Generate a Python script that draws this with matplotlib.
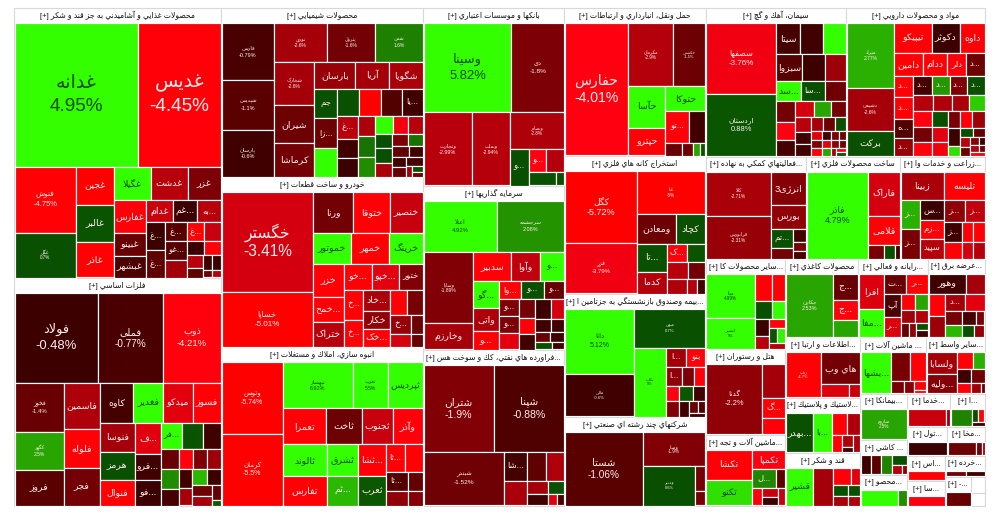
import math
import matplotlib
matplotlib.use("Agg")
import matplotlib.pyplot as plt
from matplotlib.colors import LinearSegmentedColormap, Normalize
from matplotlib.patches import Rectangle

plt.rcParams['font.family'] = ['Liberation Sans', 'DejaVu Sans']

# ---------- data: name, market-size estimate, daily change (%) ----------
FOOD_T = "محصولات غذايي و آشاميدني به جز قند و شكر [+]"
FOOD_N = ["غدانه","غدیس","فنوش","غگل","غجین","غالبر","غاذر","غگیلا","غدشت","غزر","غفارس","غبینو","غبشهر","غدام","...غم","...به","...غ","...غ","...غ","...غو","","...غ","","","","","","","","",""]
FOOD_V = [17712,11808,3965,2684,1369,1332,1295,1184,1184,1056,1023,682,651,567,504,483,486,468,396,396,352,288,288,195,195,180,135,112,112,56,56]
FOOD_C = [4.95,-4.45,-4.75,0.7,-5,0.8,-4.8,5,-3,-1.8,-4.5,-1.4,-0.8,-3.2,-0.5,-3.0,-0.5,-1.2,-1.0,-1.0,-2.5,-4.8,-3.2,-0.5,-4.5,-3.0,-1.2,-0.5,-0.5,-1.5,-3]

METAL_T = "فلزات اساسي [+]"
METAL_N = ["فولاد","فملی","ذوب","فخوز","کگهر","فروز","فاسمین","فلوله","فجر","کاوه","فغدیر","میدکو","فسوز","فنوسا","هرمز","فنوال","...ف","...فرو","...فو","...فر","","","","","","","","","","","","","","","",""]
METAL_V = [7380,5760,5130,2352,1813,1666,1584,1368,1296,1254,1140,1102,1064,952,918,850,780,650,624,520,520,442,323,247,247,247,323,255,234,208,210,195,180,162,112,40]
METAL_C = [-0.48,-0.77,-4.21,-1.4,2.5,-1.1,-2.8,-4.6,-1.6,-0.7,5,-3.6,-4.6,-2.6,0.7,-4.8,-3.6,-0.6,-0.5,5,0.8,-0.6,-1.4,-4.2,-1.8,-2.4,1.9,-0.7,-0.6,-2.6,3,-0.5,-1.5,-2.6,-1.3,1.0]

CHEM_T = "محصولات شيميايي [+]"
CHEM_N = ["فارس","شپدیس","پارسان","نوری","پترول","شفن","شخارک","شیران","کرماشا","بارسان","آریا","شگویا","جم","...زا","","","","","...یا","...غ","","","","","","","","","","","","","","","","","","","","",""]
CHEM_V = [2912,2548,2340,1976,1786,1786,1680,1480,1280,1040,858,858,638,638,616,546,546,520,520,437,342,342,323,340,323,289,238,238,210,210,195,180,168,160,130,126,112,120,50,45,36]
CHEM_C = [-0.79,-1.1,-0.6,-2.6,-1.6,1.6,-2.6,-1.5,-1.6,-2.3,-2.6,-2.7,0.7,-1.5,5,0.7,-4.9,-0.9,-0.6,-3.0,-0.6,-0.5,-2.8,1.4,1.9,5,-3.8,-3,0.6,0.6,-2.7,-1.8,1.4,-1.3,-0.6,-0.6,-1.4,-0.7,-2.6,0.7,-1.4]

AUTO_T = "خودرو و ساخت قطعات [+]"
AUTO_N = ["خگستر","خساپا","ورنا","ختوقا","خنصیر","خموتور","خمهر","خرینگ","خزر","...خمح","ختراک","...خو","...خپو","ختور","...خ","...خ","...خاد","خکار","...خک","","","...خ","","",""]
AUTO_V = [8730,4770,1560,1404,1248,1110,1080,960,960,720,690,675,650,575,532,475,500,425,425,368,345,360,220,198,121]
AUTO_C = [-3.41,-5.01,-1.6,-4.6,-3.2,5,-4.7,5,-4.6,-4.6,-3,-4.6,-3.6,-1.9,-4.6,-4.6,-2.7,-2.2,-4.6,-4.6,-1.7,-2.3,-3.4,-1.5,-1.4]

BUILD_T = "انبوه سازي، املاك و مستغلات [+]"
BUILD_N = ["وتوس","كرمان","ثبهساز","ثغرب","ثپردیس","تعمرا","ثاخت","ثجنوب","وآذر","ثالوند","تفارس","ثشرق","...ثم","...ثشا","ثعرب","...ثا","","...ثا","","",""]
BUILD_V = [4260,4290,3174,1564,1564,1505,1225,1085,1015,1333,1247,930,870,810,780,486,459,378,294,252,196]
BUILD_C = [-5.74,-5.5,6.92,5.5,5,-4.6,-1.5,-3.2,-4.4,5,-4.6,5,3,-4.5,0.9,-4.6,-4.7,-0.9,-2.2,-1.3,-2.0]

BANK_T = "بانكها و موسسات اعتباري [+]"
BANK_N = ["وسینا","دی","وتجارت","وبملت","وبصادر","...و","...و","","",""]
BANK_V = [7568,4488,3358,2628,1855,648,368,368,312,84]
BANK_C = [5.82,-1.8,-2.99,-2.94,-2.8,0.6,-4,-2.9,0.7,0.7]

INVEST_T = "سرمايه گذاريها [+]"
INVEST_N = ["اعتلا","سرچشمه","وسایا","وخارزم","سدبیر","وآوا","...و","...گو","واتی","...و","...وا","...و","...و","...و","...و","","","","","","","","","","","",""]
INVEST_V = [3550,3250,3360,1200,999,756,621,624,528,408,357,374,323,304,304,285,270,225,210,270,216,180,144,120,108,105,72]
INVEST_C = [4.92,2.08,-1.89,-2.6,-4.6,-3.1,5,5,-2.8,-4.6,-4.6,0.7,-1.4,-1.8,-1.8,-3.6,-1.6,-4.6,-0.6,-0.5,-3.4,-0.6,-0.6,-1.4,-0.6,0.7,-0.6]

OIL_T = "...فراورده هاي نفتي، كك و سوخت هس [+]"
OIL_N = ["شتران","شپنا","شبندر","...شا","","","","","","","",""]
OIL_V = [5780,5780,4108,616,506,476,476,240,200,168,77,66]
OIL_C = [-1.9,-0.88,-1.52,-0.7,-2.7,-1.2,-2.8,-2.6,-0.6,0.7,-3.6,-0.8]

TRANS_T = "حمل ونقل، انبارداري و ارتباطات [+]"
TRANS_N = ["حفارس","مکرمان","حکشتی","حآسا","حپترو","حتوکا","...تو","","","","",""]
TRANS_V = [8184,2728,1922,1476,972,936,713,465,176,110,77,44]
TRANS_C = [-4.01,-2.9,-1.5,5,-4.6,5,-4.4,-0.6,-1.4,-1.5,2.5,0.8]

MINE_T = "استخراج كانه هاي فلزي [+]"
MINE_N = ["کگل","فزر","عنا","ومعادن","کچاد","...تا","کدما","...ک","","","","",""," "]
MINE_V = [4900,3430,2747,1064,784,756,588,340,289,300,234,260,117,104]
MINE_C = [-5.72,-3.79,-5.0,-1.5,0.7,0.7,-2.9,-4.4,0.8,-3.0,-1.6,-2.8,-2.9,-0.6]

INSUR_T = "...بيمه وصندوق بازنشستگي به جزتامين ا [+]"
INSUR_N = ["دانا","مالی","میهن","بکاب","...ا","بنو","...ا","","","","","","","","","",""]
INSUR_V = [4154,2747,2520,2010,342,324,255,187,170,168,168,154,168,126,80,60,45]
INSUR_C = [5.12,-0.6,0.7,5,-2.5,-4.4,-2.2,-1.8,-4.5,-4.0,0.9,-0.6,-1.9,-0.6,-1.4,-0.9,-0.5]

MULTI_T = "شركتهاي چند رشته اي صنعتي [+]"
MULTI_N = ["شستا","وصنا","وغدیر","",""]
MULTI_V = [5472,2013,1938,216,117]
MULTI_C = [-1.06,-1.9,0.6,-1.7,-1.7]

CEMENT_T = "سيمان، آهك و گچ [+]"
CEMENT_N = ["سصفها","اردستان","سیتا","","","سبزوا","","","...سد","...سا","","","","","","","","","","","","","","","","","","","","","","","","","",""]
CEMENT_V = [4830,4270,690,630,660,650,572,520,480,440,400,360,306,270,252,238,196,210,180,165,130,143,130,80,64,56,48,70,56,49,42,70,56,35,32,24]
CEMENT_C = [-3.76,0.88,-0.7,-0.6,5,-1,-0.5,-2.4,5,0.6,-1.5,-1.6,-4,-0.7,-3.4,2.5,-1.6,-3,-0.6,-0.6,-2.6,-1.5,0.7,-3.6,-0.6,-1.8,-1.5,-1.8,-3.6,-2.2,-1.5,-4.6,2.5,-2.5,-4.6,0.8]

PHARMA_T = "مواد و محصولات دارويي [+]"
PHARMA_N = ["میراد","دشیمی","برکت","تیپیکو","دکوثر","داوه","دامین","ددام","دلر","...د","...د","...د","...ه","...د","...د","...د","...د","...د"] + [""]*24
PHARMA_V = [2961,1974,1128,1073,783,696,616,528,396,396,360,360,324,306,324,306,288,306,300,270,240,225,266,266,247,210,210,195,176,176,192,176,99,96,88,81,72,48,30,48,30,52]
PHARMA_C = [2.77,-2.6,0.7,-4.6,-0.5,-4.6,-4.7,-4.6,-4.4,-1.5,-4.6,-4.6,-0.9,-2.3,-0.7,2.2,-1.8,0.7,-2.9,-2.8,-2.7,3.5,-4,-1.6,-4.2,0.7,-3.6,-3.8,-1.7,-4.4,-2.4,-0.5,4,0.6,-1.4,-3,-1.4,-2,-0.5,-2.8,-1.5,-4.6]

FIN_T = "...فعاليتهاي كمكي به نهاده [+]"
FIN_N = ["کالا","فرابورس","انرژی3","بورس","...تم","","","",""]
FIN_V = [2752,2688,1088,782,360,200,144,96,84]
FIN_C = [-2.71,-2.31,-2.0,-2.2,0.7,-1.6,-0.7,-1.7,-0.7]

METALP_T = "ساخت محصولات فلزي [+]"
METALP_N = ["فاذر","فاراک","قلامی","","",""]
METALP_V = [5100,1333,868,180,120,48]
METALP_C = [4.79,-3.4,-4.6,-1.7,0.7,-0.6]

AGRI_T = "...زراعت و خدمات وا [+]"
AGRI_N = ["زبینا","تلیسه","...ز","...ز","...س","...زم","سپید","...ز","...ز","...ز","","","","",""]
AGRI_V = [1176,1120,513,532,437,414,414,420,399,323,190,209,255,150,165]
AGRI_C = [-2.7,-4.6,2.8,-1.7,-0.5,-4.6,-2.9,-2.2,-3.1,-0.6,-4.5,-4.6,-4.7,-3.4,-3]

OTHER_T = "...ساير محصولات كا [+]"
OTHER_N = ["مبنا","کپشیر","","","","","","","","","",""]
OTHER_V = [2058,1470,425,325,289,204,208,156,120,112,98,75]
OTHER_C = [4.99,5,-4.5,-4.6,0.6,5,-0.5,-3,-4,0.8,4.5,-3]

HOTEL_T = "هتل و رستوران [+]"
HOTEL_N = ["گدنا","","...گ",""]
HOTEL_V = [3752,704,418,330]
HOTEL_C = [-2.2,-2.6,-4.6,-4.5]

MACH_T = "...ماشين آلات و تجه [+]"
MACH_N = ["تکشا","تکنو","تکمپا","...ل","","","","",""]
MACH_V = [1288,1104,576,396,144,144,120,120,96]
MACH_C = [-4.6,4,-4,1.8,-1.1,-4,-3.2,-0.5,-3.2]

PAPER_T = "محصولات كاغذي [+]"
PAPER_N = ["چکارن","...ج","...ج",""]
PAPER_V = [2914,600,480,384]
PAPER_C = [2.53,-1.4,-4.2,2.5]

COMP_T = "...رايانه و فعالي [+]"
COMP_N = ["افرا","...مفا","...ت","...ر","آپ","...ر","","","","","","","",""]
COMP_V = [816,624,399,399,368,304,195,165,156,132,91,78,70,60]
COMP_C = [-3.5,5,-1.4,-4.6,-0.8,-3.5,-4.6,2.5,-2.5,-2.9,-1.4,-2.2,0.7,-0.6]

POWER_T = "...عرضه برق [+]"
POWER_N = ["وهور","","","","...د","","","","","","",""]
POWER_V = [684,342,336,304,304,288,208,169,104,176,121,99]
POWER_C = [-0.6,-2.6,-4.6,-2.4,-2.6,-3.6,-1.6,-0.7,-1.8,3.0,0.6,-2.2]

IT_T = "...اطلاعات و ارتبا [+]"
IT_N = ["رتاپ","هاي وب","",""]
IT_V = [1428,1147,308,110]
IT_C = [-4.7,-1.6,-3.5,-3.2]

RUBBER_T = "...لاستيك و پلاستيك [+]"
RUBBER_N = ["...بهدر","...با","","","","","",""]
RUBBER_V = [962,703,280,240,136,108,36,102]
RUBBER_C = [0.7,5,-4.6,-2.8,-4.5,-2.8,-0.5,-2.7]

SUGAR_T = "قند و شكر [+]"
SUGAR_N = ["قشیر","","","","","","",""]
SUGAR_V = [900,648,255,120,140,110,112,80]
SUGAR_C = [5,-2.6,-4.3,-3.6,0.7,0.7,-2.6,-2.8]

MACH2_T = "... ماشين آلات [+]"
MACH2_N = ["...بشها","","","","","",""]
MACH2_V = [1102,486,378,120,90,77,22]
MACH2_C = [5,-1.7,-4.6,-1.7,-2.1,-4.6,-4.6]

VASET_T = "...ساير واسط [+]"
VASET_N = ["ولسابا","...ولیه","","","","","","",""]
VASET_V = [580,493,225,165,156,156,117,81,27]
VASET_C = [-2.6,-2,-4.6,2.8,-0.5,-1.6,-4.5,-2.5,-1.5]

BIMAN_T = "...بيمانكا [+]"
BIMAN_N = ["ساروم"]
BIMAN_V = [1188]
BIMAN_C = [2.5]

KASHI_T = "... كاشي [+]"
KASHI_N = ["","","","","",""]
KASHI_V = [162,162,162,117,72,32]
KASHI_C = [-0.5,-1.1,1.7,0.7,-2.9,-2.2]

MAHSU_T = "...محصو [+]"
MAHSU_N = ["",""]
MAHSU_V = [525,120]
MAHSU_C = [4.8,2]

HODMA_T = "...خدما [+]"
HODMA_N = ["",""]
HODMA_V = [555,45]
HODMA_C = [-3.2,-2.5]

SMALLA_T = "...ا [+]"
SMALLA_N = ["","","",""]
SMALLA_V = [300,60,60,39]
SMALLA_C = [1.7,0.7,-4.4,-0.6]

TOOL_T = "...تول [+]"
TOOL_N = [""]
TOOL_V = [407]
TOOL_C = [-0.5]

MAKHA_T = "...مخا [+]"
MAKHA_N = ["","",""]
MAKHA_V = [330,66,22]
MAKHA_C = [-1.5,-1.6,-2.6]

AS_T = "...اس [+]"
AS_N = [""]
AS_V = [288]
AS_C = [-4.6]

SA_T = "...سا [+]"
SA_N = [""]
SA_V = [252]
SA_C = [-3.9]

KHORDE_T = "...خرده [+]"
KHORDE_N = ["",""]
KHORDE_V = [80,72]
KHORDE_C = [-1.6,-0.6]

DASH_T = "...- [+]"
DASH_N = [""]
DASH_V = [264]
DASH_C = [-1.4]

SECTOR_SIZES = [55890,47196,34054,34255,32038,25098,23124,21996,20868,19458,17343,12549,
                20868,20572,10302,9588,8670,7200,6800,5680,5694,5460,4446,4500,4125,3975,
                3696,3304,2162,1645,1457,1419,1155,1160,1102,950,950,840,754,224,182]

SECTORS = [(FOOD_T,FOOD_N,FOOD_V,FOOD_C),(METAL_T,METAL_N,METAL_V,METAL_C),(CHEM_T,CHEM_N,CHEM_V,CHEM_C),
           (AUTO_T,AUTO_N,AUTO_V,AUTO_C),(BUILD_T,BUILD_N,BUILD_V,BUILD_C),(BANK_T,BANK_N,BANK_V,BANK_C),
           (INVEST_T,INVEST_N,INVEST_V,INVEST_C),(OIL_T,OIL_N,OIL_V,OIL_C),(TRANS_T,TRANS_N,TRANS_V,TRANS_C),
           (MINE_T,MINE_N,MINE_V,MINE_C),(INSUR_T,INSUR_N,INSUR_V,INSUR_C),(MULTI_T,MULTI_N,MULTI_V,MULTI_C),
           (CEMENT_T,CEMENT_N,CEMENT_V,CEMENT_C),(PHARMA_T,PHARMA_N,PHARMA_V,PHARMA_C),(FIN_T,FIN_N,FIN_V,FIN_C),
           (METALP_T,METALP_N,METALP_V,METALP_C),(AGRI_T,AGRI_N,AGRI_V,AGRI_C),(OTHER_T,OTHER_N,OTHER_V,OTHER_C),
           (HOTEL_T,HOTEL_N,HOTEL_V,HOTEL_C),(MACH_T,MACH_N,MACH_V,MACH_C),(PAPER_T,PAPER_N,PAPER_V,PAPER_C),
           (COMP_T,COMP_N,COMP_V,COMP_C),(POWER_T,POWER_N,POWER_V,POWER_C),(IT_T,IT_N,IT_V,IT_C),
           (RUBBER_T,RUBBER_N,RUBBER_V,RUBBER_C),(SUGAR_T,SUGAR_N,SUGAR_V,SUGAR_C),(MACH2_T,MACH2_N,MACH2_V,MACH2_C),
           (VASET_T,VASET_N,VASET_V,VASET_C),(BIMAN_T,BIMAN_N,BIMAN_V,BIMAN_C),(KASHI_T,KASHI_N,KASHI_V,KASHI_C),
           (MAHSU_T,MAHSU_N,MAHSU_V,MAHSU_C),(HODMA_T,HODMA_N,HODMA_V,HODMA_C),(SMALLA_T,SMALLA_N,SMALLA_V,SMALLA_C),
           (TOOL_T,TOOL_N,TOOL_V,TOOL_C),(MAKHA_T,MAKHA_N,MAKHA_V,MAKHA_C),(AS_T,AS_N,AS_V,AS_C),(SA_T,SA_N,SA_V,SA_C),
           (KHORDE_T,KHORDE_N,KHORDE_V,KHORDE_C),(DASH_T,DASH_N,DASH_V,DASH_C),("",[],[],[]),("",[],[],[])]

# ---------- layout rules: strips of the treemap (c = column at left, r = row on top, n = tile count) ----------
ROOT_STRIPS = "c2 c3 c3 c4 r2 r3 c3 r3 c3 r2 c3 r2 r2 c2 r1 c1 r1 r1"
STRIPS = ["r2 c2 c3 r3 c3 r3 c2 c3 r2 r2 c2 r2 r2",
          "r3 c3 c3 r4 c3 c3 r3 r4 c2 c2 r2 c2 c2",
          "c3 r3 c3 r3 c3 r4 c3 c3 r3 c3 r2 r2 c2 r1 c1 c2",
          "c2 r3 r3 c3 r3 c2 c3 r2 c2 c2",
          "c2 r3 r4 c2 c2 c2 r2 c2 c2",
          "r2 c1 c1 r1 c1 r2 r2",
          "r2 c2 r3 c3 r3 c3 c3 r2 r2 r2 r2",
          "r2 c1 c2 r2 c2 r1 c1 c1",
          "c1 r2 c2 r1 r2 r4",
          "c2 r1 r2 c2 r2 r2 r3",
          "c2 r1 c1 r2 r3 r3 c1 c1 r2 r1",
          "c1 r1 c1 r1 r1",
          "c2 r3 r3 r3 c3 r3 c3 r3 r4 r4 c1 c1 c1 r1 r1",
          "c3 r3 r4 c4 r4 r4 c3 c3 r3 c2 r2 c2 r2 r2 r1",
          "c2 r1 r1 c2 c3",
          "c1 r1 r1 r3",
          "r2 c2 c3 r2 r3 r3",
          "c2 r2 r2 c2 r1 r2 r1",
          "c1 r1 r1 r1",
          "c2 r1 r2 c1 c2 c1",
          "c1 r1 r1 r1",
          "c2 r2 c2 r2 r2 c1 c1 c2",
          "r2 c2 r2 r3 r3",
          "c1 r1 r2",
          "c1 c1 r2 c1 c2 c1",
          "c1 c1 r2 r2 r2",
          "c1 r2 c1 c1 r1 r1",
          "c2 r2 r2 r3",
          "r1",
          "c1 c1 c1 r1 r2",
          "c1 c1",
          "c1 c1",
          "c1 r2 r1",
          "r1",
          "c1 c1 c1",
          "r1",
          "r1",
          "c1 c1",
          "r1",
          "",
          ""]

# font size (px) of the two-line labels (name + change); all other labels are name only
LABEL_PX = {"غدانه":19,"غدیس":19,"فنوش":7.5,"غگل":4.5,"فولاد":13,"فملی":10,"ذوب":9.5,"فخوز":6,"کگهر":5,
            "فارس":5.5,"شپدیس":5.5,"پارسان":5.5,"نوری":5,"پترول":5,"شفن":5,"شخارک":5,
            "خگستر":15.5,"خساپا":8,"وتوس":7,"كرمان":7,"ثبهساز":5.5,"ثغرب":5,
            "وسینا":13,"دی":6.5,"وتجارت":5.5,"وبملت":5,"وبصادر":4.5,"اعتلا":6,"سرچشمه":5.5,"وسایا":5,
            "شتران":10.5,"شپنا":10.5,"شبندر":6.5,"حفارس":14,"مکرمان":4.5,"حکشتی":4,
            "کگل":9,"فزر":6,"عنا":4.5,"دانا":7,"مالی":4.2,"میهن":4.2,"بکاب":4,"شستا":10,"وصنا":4.5,"وغدیر":4,
            "سصفها":8,"اردستان":7.5,"میراد":5,"دشیمی":5,"کالا":4.8,"فرابورس":4.8,"فاذر":9,"گدنا":7.5,
            "مبنا":4.5,"کپشیر":4,"چکارن":5.5,"رتاپ":4,"ساروم":4.5}

FORMS = {'ا':(0xFE8D,0xFE8E),'آ':(0xFE81,0xFE82),'أ':(0xFE83,0xFE84),'ب':(0xFE8F,0xFE90,0xFE91,0xFE92),
 'پ':(0xFB56,0xFB57,0xFB58,0xFB59),'ت':(0xFE95,0xFE96,0xFE97,0xFE98),'ث':(0xFE99,0xFE9A,0xFE9B,0xFE9C),
 'ج':(0xFE9D,0xFE9E,0xFE9F,0xFEA0),'چ':(0xFB7A,0xFB7B,0xFB7C,0xFB7D),'ح':(0xFEA1,0xFEA2,0xFEA3,0xFEA4),
 'خ':(0xFEA5,0xFEA6,0xFEA7,0xFEA8),'د':(0xFEA9,0xFEAA),'ذ':(0xFEAB,0xFEAC),'ر':(0xFEAD,0xFEAE),'ز':(0xFEAF,0xFEB0),
 'ژ':(0xFB8A,0xFB8B),'س':(0xFEB1,0xFEB2,0xFEB3,0xFEB4),'ش':(0xFEB5,0xFEB6,0xFEB7,0xFEB8),
 'ص':(0xFEB9,0xFEBA,0xFEBB,0xFEBC),'ض':(0xFEBD,0xFEBE,0xFEBF,0xFEC0),'ط':(0xFEC1,0xFEC2,0xFEC3,0xFEC4),
 'ظ':(0xFEC5,0xFEC6,0xFEC7,0xFEC8),'ع':(0xFEC9,0xFECA,0xFECB,0xFECC),'غ':(0xFECD,0xFECE,0xFECF,0xFED0),
 'ف':(0xFED1,0xFED2,0xFED3,0xFED4),'ق':(0xFED5,0xFED6,0xFED7,0xFED8),'ک':(0xFB8E,0xFB8F,0xFB90,0xFB91),
 'ك':(0xFED9,0xFEDA,0xFEDB,0xFEDC),'گ':(0xFB92,0xFB93,0xFB94,0xFB95),'ل':(0xFEDD,0xFEDE,0xFEDF,0xFEE0),
 'م':(0xFEE1,0xFEE2,0xFEE3,0xFEE4),'ن':(0xFEE5,0xFEE6,0xFEE7,0xFEE8),'ه':(0xFEE9,0xFEEA,0xFEEB,0xFEEC),
 'و':(0xFEED,0xFEEE),'ی':(0xFBFC,0xFBFD,0xFBFE,0xFBFF),'ي':(0xFEF1,0xFEF2,0xFEF3,0xFEF4)}
LAM_ALEF = {'ا':(0xFEFB,0xFEFC),'آ':(0xFEF5,0xFEF6)}


def visual(text):
    """Arabic shaping and right-to-left ordering, which matplotlib does not do by itself."""
    out = []
    i = 0
    n = len(text)
    while i < n:
        c = text[i]
        if c not in FORMS:
            out.append({'[':']',']':'['}.get(c, c))
            i += 1
            continue
        prev = text[i-1] if i else ''
        joined = prev in FORMS and len(FORMS[prev]) == 4
        if c == 'ل' and i + 1 < n and text[i+1] in LAM_ALEF:
            out.append(chr(LAM_ALEF[text[i+1]][1 if joined else 0]))
            i += 2
            continue
        nxt = text[i+1] if i + 1 < n else ''
        forms = FORMS[c]
        if len(forms) == 2:
            out.append(chr(forms[1 if joined else 0]))
        else:
            fwd = nxt in FORMS
            idx = 3 if joined and fwd else 1 if joined else 2 if fwd else 0
            out.append(chr(forms[idx]))
        i += 1
    return ''.join(reversed(out))


def layout(values, strips, x, y, w, h, border=0.0):
    """Treemap layout: area of each tile grows with its value, strip by strip.
    border widens each tile's share by the white line drawn around it."""
    raw = [v + 2*border*math.sqrt(v) + border*border for v in values]
    scale = w*h/sum(raw)
    areas = [v*scale for v in raw]
    rects = []
    i = 0
    parts = strips.split()
    assert sum(int(p[1:]) for p in parts) == len(values), strips
    for part in parts:
        row = areas[i:i+int(part[1:])]
        i += len(row)
        s = sum(row)
        if part[0] == 'c':
            cw = s/h
            yy = y
            for a in row:
                rects.append((x, yy, cw, a/cw))
                yy += a/cw
            x += cw
            w -= cw
        else:
            ch = s/w
            xx = x
            for a in row:
                rects.append((xx, y, a/ch, ch))
                xx += a/ch
            y += ch
            h -= ch
    return rects


cmap = LinearSegmentedColormap.from_list("bourse", [
    (0.0, "#ff0000"), (1/12, "#ff0000"), (2/12, "#ff0010"), (2.6/12, "#d4000f"), (3/12, "#b8000c"),
    (3.5/12, "#a00008"), (4.1/12, "#800006"), (5/12, "#560000"), (5.5/12, "#3c0000"), (5.999/12, "#320000"),
    (6.001/12, "#064400"), (6.88/12, "#0a5500"), (7.6/12, "#1d7f00"), (8.4/12, "#27a000"),
    (10.8/12, "#33ff00"), (1.0, "#33ff00")])
norm = Normalize(-6, 6)

HEADER = 15
fig = plt.figure(figsize=(10, 5.17), dpi=100, facecolor="white")
ax = fig.add_axes([0, 0, 1, 1])
ax.set_xlim(0, 1000)
ax.set_ylim(517, 0)
ax.axis("off")
PX = 0.72

for (title, names, vals, chgs), strips, (sx, sy, sw, sh) in zip(SECTORS, STRIPS, layout(SECTOR_SIZES, ROOT_STRIPS, 14, 8, 971, 498)):
    assert len(names) == len(vals) == len(chgs), title
    ax.add_patch(Rectangle((sx, sy), sw, sh, fc="white", ec="#d8d8d8", lw=0.8, zorder=1))
    if title:
        ax.text(sx+sw/2, sy+HEADER/2+0.3, visual(title), ha="center", va="center", fontsize=7.7*PX, color="#111111", zorder=4)
    if not vals:
        continue
    for name, c, (x, y, w, h) in zip(names, chgs, layout(vals, strips, sx+0.5, sy+HEADER, sw-1, sh-HEADER-0.5, border=1.0)):
        ax.add_patch(Rectangle((x, y), w, h, fc=cmap(norm(c)), ec="#ffffff", lw=0.85, zorder=2))
        name = name.strip()
        if not name:
            continue
        col = "#0a4a00" if c >= 3.5 else "#ffeeee"
        cx, cy = x+w/2, y+h/2
        if name in LABEL_PX:
            px = LABEL_PX[name]
            ax.text(cx, cy-0.62*px, visual(name), ha="center", va="center", fontsize=px*PX, color=col, zorder=3)
            ax.text(cx, cy+0.62*px, f"{c:g}%", ha="center", va="center", fontsize=px*PX, color=col, zorder=3)
        else:
            px = 9.5 if w > 24 else 8.5
            ax.text(cx, cy, visual(name), ha="center", va="center", fontsize=px*PX, color=col, zorder=3)

fig.savefig("out.png", dpi=100)
